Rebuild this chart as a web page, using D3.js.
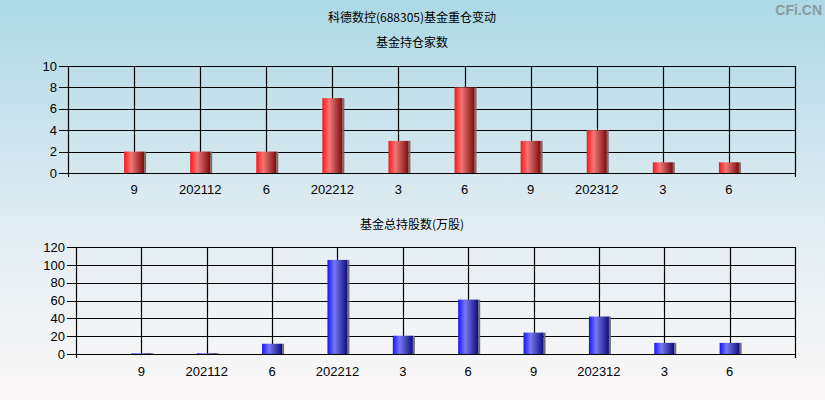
<!DOCTYPE html>
<html><head><meta charset="utf-8">
<script src="https://cdn.jsdelivr.net/npm/d3@7"></script>
<style>html,body{margin:0;padding:0;}svg{display:block;}</style>
</head><body>
<script>
const categories = ["9","202112","6","202212","3","6","9","202312","3","6"];
const fundCounts = [2,2,2,7,3,8,3,4,1,1];
const fundShares = [0.8,0.8,11.5,105.5,20.5,61,24,42,12.5,12.5];
const countTicks = [0,2,4,6,8,10];
const shareTicks = [0,20,40,60,80,100,120];

const W = 825, H = 400;
const svg = d3.select("body").append("svg").attr("width", W).attr("height", H);
const defs = svg.append("defs");
const bg = defs.append("linearGradient").attr("id","bg").attr("x1",0).attr("y1",0).attr("x2",0).attr("y2",1);
bg.append("stop").attr("offset","0%").attr("stop-color","#add8e6");
bg.append("stop").attr("offset","55%").attr("stop-color","#e0ecf2");
bg.append("stop").attr("offset","100%").attr("stop-color","#fcf8f8");
function barGrad(id, c0, c1, c2){
  const g = defs.append("linearGradient").attr("id",id).attr("x1",0).attr("y1",0).attr("x2",1).attr("y2",0);
  g.append("stop").attr("offset","0%").attr("stop-color",c0);
  g.append("stop").attr("offset","35%").attr("stop-color",c1);
  g.append("stop").attr("offset","100%").attr("stop-color",c2);
}
barGrad("redg","#ff1414","#f07878","#7a0c0c");
barGrad("blueg","#1414ff","#7878f0","#0c0c7a");

svg.append("rect").attr("width",W).attr("height",H).attr("fill","url(#bg)");

const cjk = "'Noto Sans CJK SC', sans-serif";
const num = "'Liberation Sans', Arial, sans-serif";

svg.append("text").attr("x",412).attr("y",22).attr("text-anchor","middle")
  .style("font-family",cjk).style("font-size","12px").text("科德数控(688305)基金重仓变动");
svg.append("text").attr("x",412).attr("y",47).attr("text-anchor","middle")
  .style("font-family",cjk).style("font-size","12px").text("基金持仓家数");
svg.append("text").attr("x",412).attr("y",229).attr("text-anchor","middle")
  .style("font-family",cjk).style("font-size","12px").text("基金总持股数(万股)");
svg.append("text").attr("x",822).attr("y",15).attr("text-anchor","end")
  .style("font-family",num).style("font-size","14px").style("font-weight","bold")
  .attr("fill","#8c9aa4").text("CFi.CN");

function panel(opts){
  const {left, right, top, bottom, ymax, ticks, values, grad, labelY} = opts;
  const x = d3.scaleLinear().domain([0, categories.length + 1]).range([left, right]);
  const y = d3.scaleLinear().domain([0, ymax]).range([bottom, top]);
  const g = svg.append("g");
  // horizontal gridlines + tick marks
  ticks.forEach(t => {
    g.append("line").attr("x1", left - 9).attr("x2", right).attr("y1", Math.round(y(t))+0.5).attr("y2", Math.round(y(t))+0.5)
      .attr("stroke","#000").attr("stroke-width",1.2);
  });
  // vertical gridlines at categories
  categories.forEach((c,i) => {
    const xx = Math.round(x(i+1))+0.5;
    g.append("line").attr("x1",xx).attr("x2",xx).attr("y1",top).attr("y2",bottom)
      .attr("stroke","#000").attr("stroke-width",1.2);
  });
  // left & right axes
  [left, right].forEach(xx => {
    g.append("line").attr("x1",xx+0.5).attr("x2",xx+0.5).attr("y1",top).attr("y2",bottom+4)
      .attr("stroke","#000").attr("stroke-width",1.2);
  });
  // y labels
  ticks.forEach(t => {
    g.append("text").attr("x", left - 11).attr("y", y(t)).attr("dy","0.36em").attr("text-anchor","end")
      .style("font-family",num).style("font-size","13px").text(t);
  });
  // x labels
  categories.forEach((c,i) => {
    g.append("text").attr("x", x(i+1)).attr("y", labelY).attr("text-anchor","middle")
      .style("font-family",num).style("font-size","13px").text(c);
  });
  // bars
  const bw = 20;
  values.forEach((v,i) => {
    const cx = x(i+1);
    const yt = y(v);
    g.append("rect").attr("x", cx - bw/2 + bw).attr("y", yt).attr("width", 2).attr("height", bottom - yt)
      .attr("fill","#707070");
    g.append("rect").attr("x", cx - bw/2).attr("y", yt).attr("width", bw).attr("height", bottom - yt)
      .attr("fill","url(#"+grad+")");
  });
  // redraw baseline over bars
  g.append("line").attr("x1",left).attr("x2",right).attr("y1",Math.round(bottom)+0.5).attr("y2",Math.round(bottom)+0.5)
    .attr("stroke","#000").attr("stroke-width",1.2);
}

panel({left:68, right:795, top:66, bottom:173, ymax:10, ticks:countTicks, values:fundCounts, grad:"redg", labelY:194});
panel({left:76, right:795, top:247, bottom:354, ymax:120, ticks:shareTicks, values:fundShares, grad:"blueg", labelY:376});
</script>
</body></html>
